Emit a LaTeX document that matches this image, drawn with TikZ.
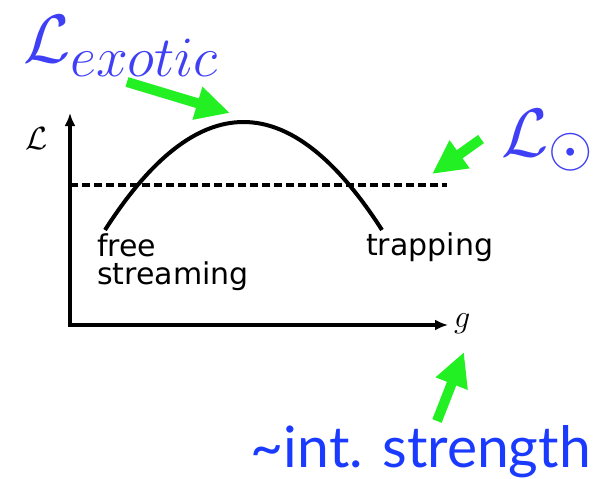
\documentclass[tikz,border=0pt]{standalone}
\usepackage{fontspec}
\setsansfont{DejaVu Sans}
\newfontfamily\gillfont{Lato}
\usepackage{graphicx}
\usepackage{xcolor}
\usetikzlibrary{arrows.meta,positioning,calc}
\definecolor{MathBlue}{HTML}{3F3FF5}
\definecolor{TextBlue}{HTML}{1A3BFF}
\definecolor{PointGreen}{HTML}{22F022}
\newcommand{\bigmathtext}[1]{\scalebox{2.75}{\Huge$#1$}}
\newcommand{\axismathtext}[1]{\scalebox{1.29}{\Huge$#1$}}
\tikzset{
  axis/.style={line width=4pt, draw=black, {Latex[length=13pt, width=11pt]}-{Latex[length=13pt, width=11pt]}},
  curve/.style={line width=4pt, draw=black},
  level/.style={line width=4pt, draw=black, dash pattern=on 8pt off 4pt},
  pointer/.style={line width=10pt, draw=PointGreen, -{Triangle[length=34pt, width=32pt]}},
  bigmath/.style={text=MathBlue, inner sep=0pt},
  caption/.style={text=black, inner sep=0pt, align=left, font=\sffamily\fontsize{30}{28}\selectfont}
}
\begin{document}
\begin{tikzpicture}[x=1pt, y=-1pt]
\useasboundingbox (0,0) rectangle (598,479);
% axes
\coordinate (origin) at (70,325);
\coordinate (ytip) at (70,113);
\coordinate (xtip) at (448,325);
\draw[axis] (ytip) -- (origin) -- (xtip);
\node[anchor=base east, inner sep=0pt] (ylab) at (48,149) {\axismathtext{\mathcal{L}}};
\node[anchor=base west, inner sep=0pt] (xlab) at (454,327) {\axismathtext{g}};
% luminosity curve and solar level
\coordinate (left) at (105,230);
\coordinate (peak) at (243.5,122);
\coordinate (right) at (382,230);
\draw[curve] (left) .. controls (197.3,86) and (289.7,86) .. (right);
\coordinate (lstart) at (70,185);
\coordinate (lend) at (447,185);
\draw[level] (lstart) -- (lend);
\node[caption, anchor=base west] (free) at (97,284) {free\\streaming};
\node[caption, anchor=base west] (trap) at (366,255) {trapping};
% labels
\node[bigmath, anchor=base west] (exotic) at (23,63) {\bigmathtext{\mathcal{L}_{exotic}}};
\node[bigmath, anchor=base west] (solar) at (501,156) {\bigmathtext{\mathcal{L}_{\odot}}};
\node[text=TextBlue, inner sep=0pt, anchor=base east, font=\gillfont\fontsize{57}{60}\selectfont] (strength) at (591,467) {\textasciitilde int. strength};
% pointers
\coordinate (p1s) at (127,82);
\coordinate (p1e) at (230,113);
\coordinate (p2s) at (481,139);
\coordinate (p2e) at (432,174);
\coordinate (p3s) at (437,421);
\coordinate (p3e) at (464,352);
\draw[pointer] (p1s) -- (p1e);
\draw[pointer] (p2s) -- (p2e);
\draw[pointer] (p3s) -- (p3e);
\end{tikzpicture}
\end{document}
